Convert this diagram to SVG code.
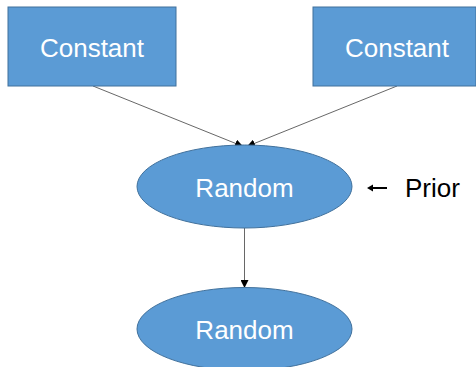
<svg xmlns="http://www.w3.org/2000/svg" width="476" height="367" viewBox="0 0 476 367">
<defs>
<style>
.box{fill:#5B9BD5;stroke:#41719C;stroke-width:1}
.lbl{font-family:"Liberation Sans",Arial,sans-serif;font-size:26px;fill:#FFFFFF;text-anchor:middle}
.edge{stroke:#404040;stroke-width:0.8;fill:none;marker-end:url(#ah)}
.note{font-family:"Liberation Sans",Arial,sans-serif;font-size:26px;fill:#000000}
</style>
<marker id="ah" markerWidth="8" markerHeight="8" refX="7" refY="4" orient="auto" markerUnits="userSpaceOnUse">
<path d="M0,0 L8,4 L0,8 Z" fill="#000"/>
</marker>
</defs>
<rect width="476" height="367" fill="#FFFFFF"/>
<g id="connectors">
<line class="edge" x1="93" y1="86" x2="242" y2="146"/>
<line class="edge" x1="397" y1="86" x2="248" y2="146"/>
<line class="edge" x1="244.5" y1="228" x2="244.5" y2="287"/>
</g>
<g id="constant1">
<rect class="box" x="8" y="7" width="168" height="79"/>
<text class="lbl" x="92" y="57">Constant</text>
</g>
<g id="constant2">
<rect class="box" x="313" y="7" width="163" height="79"/>
<text class="lbl" x="397" y="57">Constant</text>
</g>
<g id="random1">
<ellipse class="box" cx="244.5" cy="186.5" rx="107.5" ry="41.5"/>
<text class="lbl" x="244.5" y="197">Random</text>
</g>
<g id="random2">
<ellipse class="box" cx="244.5" cy="329" rx="107.5" ry="41.5"/>
<text class="lbl" x="244.5" y="339">Random</text>
</g>
<g id="prior">
<line x1="369" y1="188" x2="387" y2="188" stroke="#000" stroke-width="2"/>
<path d="M367,188 L373,184.5 L373,191.5 Z" fill="#000"/>
<text class="note" x="405" y="197">Prior</text>
</g>
</svg>
